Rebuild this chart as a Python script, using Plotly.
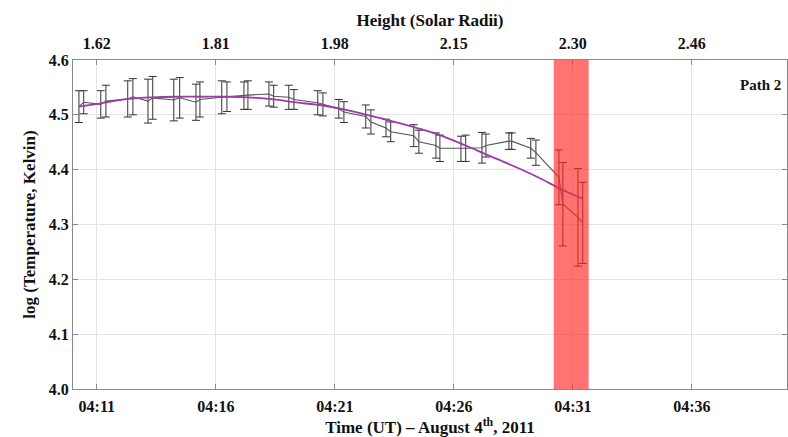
import plotly.graph_objects as go

# Observation times (UT, 2011-08-04)
times = [
    "04:10:15", "04:10:27", "04:11:10", "04:11:23", "04:12:18", "04:12:31",
    "04:13:09", "04:13:21", "04:14:14", "04:14:29", "04:15:10", "04:15:20",
    "04:16:15", "04:16:28", "04:17:11", "04:17:21", "04:18:14", "04:18:26",
    "04:19:04", "04:19:17", "04:20:17", "04:20:30", "04:21:10", "04:21:23",
    "04:22:18", "04:22:31", "04:23:09", "04:23:21", "04:24:19", "04:24:32",
    "04:25:15", "04:25:25", "04:26:18", "04:26:30", "04:27:11", "04:27:21",
    "04:28:19", "04:28:26", "04:29:14", "04:29:27", "04:30:25", "04:30:35",
    "04:31:13", "04:31:25",
]

# log10 temperature and its uncertainty
log_temp = [
    4.515, 4.523, 4.519, 4.525, 4.529, 4.533,
    4.525, 4.531, 4.527, 4.531, 4.523, 4.528,
    4.532, 4.533, 4.535, 4.536, 4.538, 4.534,
    4.532, 4.528, 4.522, 4.519, 4.511, 4.505,
    4.497, 4.487, 4.476, 4.469, 4.462, 4.451,
    4.444, 4.439, 4.438, 4.439, 4.440, 4.444,
    4.452, 4.452, 4.439, 4.431, 4.386, 4.337,
    4.313, 4.303,
]
log_temp_err = [
    0.029, 0.021, 0.025, 0.029, 0.033, 0.033,
    0.040, 0.039, 0.038, 0.037, 0.033, 0.032,
    0.030, 0.027, 0.025, 0.026, 0.022, 0.020,
    0.022, 0.018, 0.022, 0.021, 0.017, 0.019,
    0.021, 0.022, 0.016, 0.018, 0.020, 0.021,
    0.023, 0.024, 0.023, 0.024, 0.028, 0.021,
    0.015, 0.015, 0.018, 0.023, 0.050, 0.076,
    0.089, 0.074,
]

# Smooth fit to the temperature profile
fit_times = [
    "04:10:15", "04:11:10", "04:12:18", "04:13:21", "04:14:29", "04:15:20",
    "04:16:28", "04:17:21", "04:18:26", "04:19:17", "04:20:30", "04:21:23",
    "04:22:31", "04:23:21", "04:24:32", "04:25:25", "04:26:30", "04:27:21",
    "04:28:26", "04:29:27", "04:30:35", "04:31:25",
]
fit_log_temp = [
    4.515, 4.521, 4.529, 4.532, 4.533, 4.533,
    4.533, 4.532, 4.528, 4.523, 4.517, 4.510,
    4.498, 4.489, 4.475, 4.463, 4.444, 4.428,
    4.408, 4.388, 4.363, 4.347,
]

# Time axis ticks and corresponding heights
tick_times = ["04:11", "04:16", "04:21", "04:26", "04:31", "04:36"]
height_labels = ["1.62", "1.81", "1.98", "2.15", "2.30", "2.46"]
y_ticks = [4.0, 4.1, 4.2, 4.3, 4.4, 4.5, 4.6]

# Highlighted interval
band_start, band_end = "04:30:12", "04:31:40"

day = "2011-08-04 "
x_data = [day + t for t in times]
x_fit = [day + t for t in fit_times]
x_ticks = [day + t + ":00" for t in tick_times]
x_range = [day + "04:10:00", day + "04:40:00"]

serif = "Liberation Serif, Times New Roman, serif"
tick_font = dict(family=serif, size=16, color="#111111")

fig = go.Figure()

fig.add_trace(go.Scatter(
    x=x_data, y=log_temp, mode="lines",
    line=dict(color="#555555", width=1.1),
    error_y=dict(type="data", array=log_temp_err, visible=True,
                 color="#333333", thickness=1, width=4),
    showlegend=False,
))

fig.add_trace(go.Scatter(
    x=x_fit, y=fit_log_temp, mode="lines",
    line=dict(color="#9b3aa8", width=1.8, shape="spline"),
    showlegend=False,
))

# Invisible trace anchoring the top (height) axis
fig.add_trace(go.Scatter(
    x=x_range, y=[4.0, 4.0], xaxis="x2", mode="lines",
    line=dict(width=0), hoverinfo="skip", showlegend=False,
))

fig.add_shape(
    type="rect", xref="x", yref="paper",
    x0=day + band_start, x1=day + band_end, y0=0, y1=1,
    fillcolor="rgba(255,40,40,0.65)", line=dict(width=0), layer="above",
)

fig.add_annotation(
    text="<b>Path 2</b>", xref="paper", yref="paper",
    x=0.995, y=0.955, xanchor="right", yanchor="top", showarrow=False,
    font=dict(family=serif, size=15, color="#111111"),
)

axis_common = dict(
    showline=True, linecolor="#8a8a8a", linewidth=1,
    gridcolor="#e4e4e4", gridwidth=1,
    ticks="inside", ticklen=5, tickcolor="#8a8a8a",
    zeroline=False, tickfont=tick_font,
)

fig.update_layout(
    width=788, height=437,
    margin=dict(l=73, r=1, t=60, b=48),
    font=dict(family=serif, size=15, color="#111111"),
    paper_bgcolor="white", plot_bgcolor="white",
    xaxis=dict(
        **axis_common, type="date", range=x_range, showgrid=True,
        tickvals=x_ticks, ticktext=["<b>" + t + "</b>" for t in tick_times],
        ticklabelstandoff=3,
        title=dict(text="<b>Time (UT) – August 4<sup>th</sup>, 2011</b>",
                   font=dict(family=serif, size=17, color="#111111"),
                   standoff=1),
    ),
    xaxis2=dict(
        **axis_common, type="date", range=x_range, overlaying="x",
        side="top", tickvals=x_ticks, showgrid=False, ticklabelstandoff=4,
        ticktext=["<b>" + h + "</b>" for h in height_labels],
        title=dict(text="<b>Height (Solar Radii)</b>",
                   font=dict(family=serif, size=17, color="#111111"),
                   standoff=3),
    ),
    yaxis=dict(
        **axis_common, range=[4.0, 4.6], tickvals=y_ticks, showgrid=True,
        ticktext=["<b>%.1f</b>" % v for v in y_ticks], mirror="ticks",
        title=dict(text="<b>log (Temperature, Kelvin)</b>",
                   font=dict(family=serif, size=17, color="#111111"),
                   standoff=8),
    ),
)

fig.write_html("out.html")
